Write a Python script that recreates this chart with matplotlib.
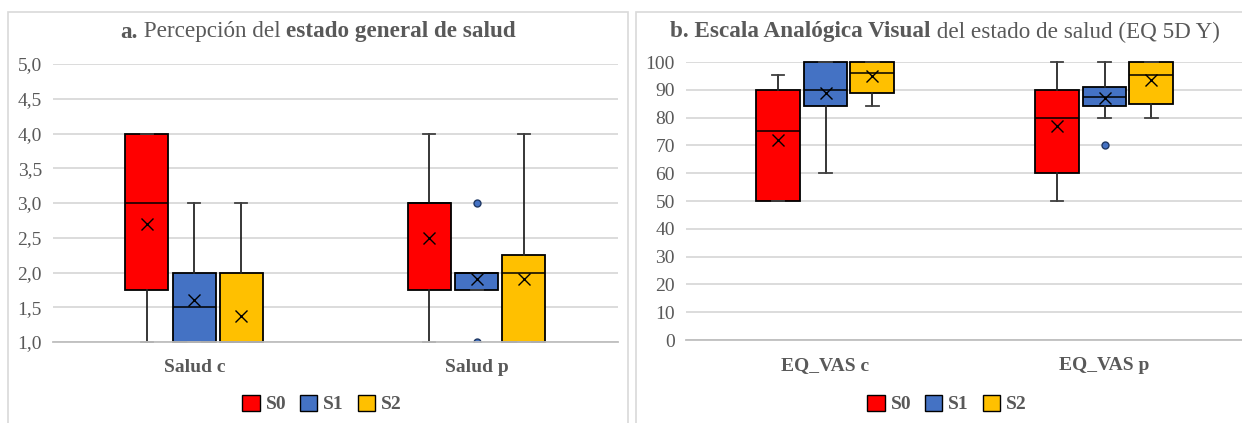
import matplotlib
matplotlib.use("Agg")
import matplotlib.pyplot as plt
from matplotlib.patches import Rectangle, Patch
from matplotlib.ticker import FuncFormatter, MultipleLocator

plt.rcParams['font.family'] = ['Liberation Serif', 'DejaVu Serif']

# ---- datos ----
series = ["S0", "S1", "S2"]
colors = ["#FF0000", "#4472C4", "#FFC000"]

# a. Percepción del estado general de salud  (indice [grupo][serie])
groups_a = ["Salud c", "Salud p"]
a_lo = [[1.0, 1.0, 1.0], [1.0, 1.75, 1.0]]
a_q1 = [[1.75, 1.0, 1.0], [1.75, 1.75, 1.0]]
a_med = [[3.0, 1.5, 1.0], [3.0, 2.0, 2.0]]
a_q3 = [[4.0, 2.0, 2.0], [3.0, 2.0, 2.25]]
a_hi = [[4.0, 3.0, 3.0], [4.0, 2.0, 4.0]]
a_mean = [[2.7, 1.6, 1.38], [2.5, 1.9, 1.9]]
a_fliers = [[[], [], []], [[], [3.0, 1.0], []]]

# b. Escala Analógica Visual (EQ 5D Y)
groups_b = ["EQ_VAS c", "EQ_VAS p"]
b_lo = [[50, 60, 84], [50, 80, 80]]
b_q1 = [[50, 84, 89], [60, 84, 85]]
b_med = [[75, 90, 96], [80, 87.5, 95.5]]
b_q3 = [[90, 100, 100], [90, 91, 100]]
b_hi = [[95.5, 100, 100], [100, 100, 100]]
b_mean = [[72, 89, 95], [77, 87, 93.5]]
b_fliers = [[[], [], []], [[], [70], []]]

GRAY = "#595959"
W, H = 1242, 423
fig = plt.figure(figsize=(W / 100, H / 100), dpi=100)


def px(x0, y0, x1, y1):
    # pixel box -> figure fraction [left, bottom, width, height]
    return [x0 / W, 1 - y1 / H, (x1 - x0) / W, (y1 - y0) / H]


# marcos de los paneles
for x0, x1 in [(8, 628), (636, 1258)]:
    fig.patches.append(Rectangle((x0 / W, -0.1), (x1 - x0) / W, 1 - 12 / H + 0.1,
                                 transform=fig.transFigure, fill=False,
                                 edgecolor="#d9d9d9", lw=1.2))


def draw_panel(ax, groups, lo, q1, med, q3, hi, mean, fliers, offs, width):
    for s in range(3):
        stats = []
        pos = []
        for g in range(len(groups)):
            stats.append(dict(whislo=lo[g][s], q1=q1[g][s], med=med[g][s], q3=q3[g][s],
                              whishi=hi[g][s], mean=mean[g][s], fliers=fliers[g][s]))
            pos.append(g + offs[s])
        res = ax.bxp(stats, positions=pos, widths=width, capwidths=width * 0.28,
                     patch_artist=True, showmeans=True, manage_ticks=False,
                     boxprops=dict(edgecolor="black", lw=1.3),
                     medianprops=dict(color="black", lw=1.1),
                     whiskerprops=dict(color="#262626", lw=1.3),
                     capprops=dict(color="#404040", lw=1.3),
                     meanprops=dict(marker="x", markeredgecolor="black",
                                    markersize=9, markeredgewidth=1.0),
                     flierprops=dict(marker="o", markerfacecolor=colors[1],
                                     markeredgecolor="#1f3864", markersize=5))
        for b in res["boxes"]:
            b.set_facecolor(colors[s])
            b.set_clip_on(False)
        for k in ["medians", "whiskers", "caps"]:
            for ln in res[k]:
                ln.set_clip_on(False)
    ax.set_xlim(-0.5, len(groups) - 0.5)
    ax.set_xticks(range(len(groups)))
    ax.set_xticklabels(groups, fontweight="bold", color=GRAY, fontsize=14)
    ax.tick_params(axis="x", length=0, pad=12)
    ax.tick_params(axis="y", length=0, pad=8, labelcolor=GRAY, labelsize=14)
    for sp in ["top", "left", "right"]:
        ax.spines[sp].set_visible(False)
    ax.spines["bottom"].set_color("#bfbfbf")
    ax.spines["bottom"].set_linewidth(1.3)
    ax.grid(axis="y", color="#d9d9d9", lw=1.3)
    ax.set_axisbelow(True)


ax1 = fig.add_axes(px(53, 64, 618, 342))
draw_panel(ax1, groups_a, a_lo, a_q1, a_med, a_q3, a_hi, a_mean, a_fliers,
           [-0.168, 0.0, 0.166], 0.153)
ax1.set_ylim(1.0, 5.0)
ax1.yaxis.set_major_locator(MultipleLocator(0.5))
ax1.yaxis.set_major_formatter(FuncFormatter(lambda v, _: f"{v:.1f}".replace(".", ",")))

ax2 = fig.add_axes(px(686, 62, 1244, 340))
draw_panel(ax2, groups_b, b_lo, b_q1, b_med, b_q3, b_hi, b_mean, b_fliers,
           [-0.171, 0.0, 0.168], 0.157)
ax2.set_ylim(0, 100)
ax2.yaxis.set_major_locator(MultipleLocator(10))


def mixed_title(parts, xc, y, size=16.7):
    texts = []
    for txt, wt in parts:
        t = fig.text(0, y, txt, fontweight=wt, fontsize=size, color=GRAY,
                     va="center", ha="left")
        texts.append(t)
    fig.canvas.draw()
    r = fig.canvas.get_renderer()
    widths = [tt.get_window_extent(r).width for tt in texts]
    x = xc * W - sum(widths) / 2
    for tt, w in zip(texts, widths):
        tt.set_position((x / W, y))
        x += w


mixed_title([("a.", "bold"), (" Percepción del ", "normal"),
             ("estado general de salud", "bold")], 318 / W, 1 - 32 / H)
mixed_title([("b. Escala Analógica Visual", "bold"),
             (" del estado de salud (EQ 5D Y)", "normal")], 945 / W, 1 - 32 / H)

handles = [Patch(facecolor=c, edgecolor="black", lw=1.0, label=s)
           for c, s in zip(colors, series)]
for xc in [322, 947]:
    fig.legend(handles=handles, loc="center", bbox_to_anchor=(xc / W, 1 - 404 / H),
               ncol=3, frameon=False, handlelength=0.9, handleheight=0.9,
               handletextpad=0.3, columnspacing=0.7,
               prop=dict(weight="bold", size=14), labelcolor=GRAY)

fig.savefig("out.png", dpi=100)
